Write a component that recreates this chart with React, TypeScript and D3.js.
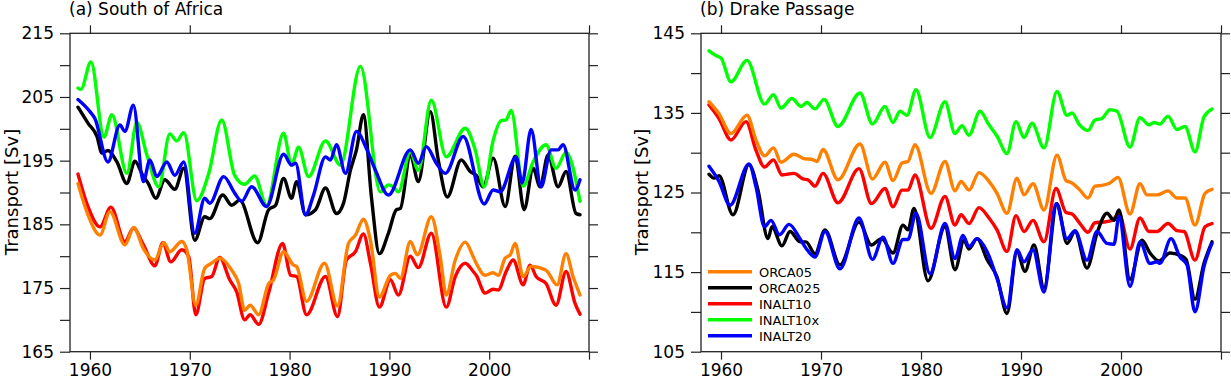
import React, { useEffect, useRef } from "react";
import * as d3 from "d3";

type Pt = [number, number];

// legend order
const seriesNames = ["ORCA05", "ORCA025", "INALT10", "INALT10x", "INALT20"];
const seriesColors = ["#ff8000", "#000000", "#ff0000", "#00ff00", "#0000ff"];
// red first, blue last (blue sits on top)
const drawOrder = [2, 0, 1, 3, 4];

const yearTicks = [1960, 1970, 1980, 1990, 2000, 2010];
const yearLabels = [1960, 1970, 1980, 1990, 2000];

const safTicks = [165, 170, 175, 180, 185, 190, 195, 200, 205, 210, 215];
const safLabels = [165, 175, 185, 195, 205, 215];
const dpTicks = [105, 110, 115, 120, 125, 130, 135, 140, 145];
const dpLabels = [105, 115, 125, 135, 145];

// (a) South of Africa, [year, Sv]
const safOrca05: Pt[] = [[1958.8,191.4],[1959.8,186.5],[1961.0,183.3],[1962.0,187.0],[1963.5,181.8],[1964.4,184.5],[1965.35,181.2],[1966.5,179.4],[1967.4,182.1],[1968.0,180.7],[1969.2,182.3],[1969.7,181.0],[1970.6,172.3],[1971.5,178.1],[1972.2,178.9],[1973.0,179.7],[1974.2,177.8],[1974.9,175.7],[1975.5,171.5],[1976.05,172.3],[1976.9,170.8],[1977.9,175.7],[1978.4,176.3],[1979.4,180.7],[1980.4,178.6],[1980.7,178.4],[1981.7,172.9],[1983.5,178.9],[1984.8,172.2],[1985.9,182.0],[1986.6,183.3],[1987.4,185.8],[1988.1,182.5],[1989.0,173.6],[1990.1,177.0],[1990.6,177.3],[1991.1,176.5],[1992.1,182.3],[1992.8,180.2],[1994.2,186.2],[1995.1,179.9],[1995.7,173.9],[1996.6,179.4],[1997.6,182.2],[1998.4,179.9],[1998.7,178.9],[1999.6,177.0],[2000.4,177.4],[2000.9,177.0],[2001.6,179.7],[2002.1,180.2],[2002.6,182.0],[2003.4,176.8],[2004.2,178.4],[2005.7,177.8],[2006.8,175.5],[2007.7,180.4],[2008.4,176.8],[2009.1,173.9]];
const safOrca025: Pt[] = [[1958.8,203.4],[1959.8,200.9],[1960.7,198.8],[1961.2,196.2],[1961.8,196.6],[1962.7,194.8],[1963.7,191.4],[1964.5,194.9],[1965.35,192.5],[1965.85,191.4],[1966.6,189.1],[1967.5,192.0],[1968.5,190.5],[1969.4,193.8],[1970.5,182.5],[1971.5,186.2],[1972.0,185.9],[1973.3,189.6],[1974.2,188.0],[1975.0,188.8],[1976.8,182.1],[1977.9,187.3],[1978.6,188.0],[1979.4,192.2],[1980.2,189.1],[1980.7,191.7],[1981.6,186.5],[1982.6,187.3],[1983.6,190.7],[1984.7,186.7],[1985.4,188.3],[1986.1,193.5],[1986.7,196.7],[1987.4,202.2],[1988.2,189.3],[1989.0,180.4],[1989.9,183.6],[1990.7,187.3],[1991.1,187.5],[1992.1,195.9],[1992.9,191.7],[1994.1,202.7],[1994.9,195.1],[1995.8,189.3],[1997.2,195.1],[1998.1,193.3],[1998.7,192.7],[1999.4,190.9],[2000.4,195.4],[2001.6,187.8],[2002.6,195.7],[2003.5,187.3],[2004.4,193.8],[2005.1,190.9],[2005.9,195.9],[2006.9,190.9],[2007.7,193.3],[2008.7,186.7],[2009.1,186.5]];
const safInalt10: Pt[] = [[1958.8,192.9],[1959.8,187.8],[1961.0,184.6],[1962.1,187.7],[1963.5,182.3],[1964.35,184.4],[1965.35,181.8],[1966.5,178.5],[1967.3,182.1],[1968.1,179.1],[1969.2,181.0],[1969.9,179.9],[1970.6,170.8],[1971.5,176.5],[1972.2,176.8],[1973.0,179.8],[1974.0,176.3],[1974.7,174.4],[1975.5,170.0],[1976.05,170.8],[1976.9,169.3],[1977.9,174.2],[1979.3,182.0],[1980.1,177.0],[1980.7,176.8],[1981.7,170.8],[1983.6,176.8],[1984.8,170.5],[1985.7,179.4],[1986.6,180.7],[1987.4,183.5],[1988.1,178.9],[1989.0,172.0],[1990.1,176.3],[1990.9,173.9],[1992.1,180.0],[1992.9,178.2],[1994.2,183.6],[1995.7,172.0],[1996.6,176.8],[1997.6,178.9],[1998.4,177.6],[1998.7,177.0],[1999.6,174.2],[2000.4,174.8],[2000.9,174.7],[2001.7,177.6],[2002.4,179.4],[2003.4,175.5],[2004.1,178.6],[2004.7,176.8],[2005.7,175.7],[2006.7,172.3],[2007.7,177.6],[2008.6,172.6],[2009.1,170.9]];
const safInalt10x: Pt[] = [[1958.8,206.4],[1959.1,206.2],[1960.1,210.5],[1961.4,198.7],[1962.2,202.2],[1963.7,193.0],[1964.7,201.0],[1965.7,195.9],[1966.9,190.9],[1968.0,199.2],[1968.7,198.1],[1969.4,199.4],[1970.7,188.7],[1971.9,193.0],[1973.2,201.4],[1974.5,192.7],[1975.5,191.3],[1976.5,192.6],[1977.7,188.0],[1979.4,199.3],[1980.2,194.3],[1980.9,197.1],[1981.9,192.5],[1983.6,198.1],[1985.1,194.3],[1987.1,209.8],[1989.1,190.1],[1989.9,191.2],[1990.4,190.9],[1990.9,190.1],[1992.1,196.4],[1992.9,193.5],[1994.2,204.5],[1995.7,195.6],[1997.6,200.1],[1998.6,196.7],[1999.5,190.9],[2000.4,198.2],[2001.2,201.3],[2001.7,201.4],[2002.2,202.9],[2003.4,191.0],[2004.4,194.8],[2005.7,197.5],[2006.7,193.8],[2007.7,196.3],[2009.1,188.6]];
const safInalt20: Pt[] = [[1958.8,204.6],[1960.0,202.7],[1960.5,201.6],[1961.8,194.8],[1963.0,200.6],[1963.5,199.6],[1964.35,203.7],[1965.35,191.7],[1966.0,195.1],[1966.7,192.5],[1967.7,194.8],[1968.5,192.7],[1969.4,194.8],[1970.5,183.6],[1971.5,189.1],[1972.0,188.3],[1973.4,192.5],[1974.5,189.9],[1975.2,188.6],[1976.2,190.9],[1977.7,187.8],[1979.4,196.0],[1980.2,194.3],[1980.6,194.6],[1981.6,186.5],[1982.4,189.6],[1983.6,195.6],[1984.1,195.1],[1984.7,197.5],[1985.6,193.0],[1986.7,199.6],[1987.7,196.9],[1988.6,193.5],[1989.9,189.6],[1992.1,196.7],[1992.9,194.6],[1993.7,197.2],[1994.7,194.6],[1995.6,193.0],[1997.4,198.8],[1999.5,188.2],[2000.4,190.4],[2001.1,190.1],[2002.7,195.6],[2003.3,191.5],[2004.2,199.9],[2005.2,190.9],[2006.2,196.7],[2006.9,196.7],[2007.4,197.5],[2008.6,190.4],[2009.1,192.0]];

// (b) Drake Passage, [year, Sv]
const dpOrca05: Pt[] = [[1958.8,136.4],[1959.8,134.9],[1961.0,132.4],[1962.6,134.7],[1963.5,131.6],[1964.35,129.6],[1965.25,130.6],[1966.0,128.8],[1967.3,129.8],[1968.2,129.3],[1969.2,129.1],[1969.6,128.9],[1970.2,130.4],[1971.7,126.6],[1973.9,131.1],[1975.15,126.7],[1976.4,128.8],[1977.2,126.5],[1978.1,128.7],[1978.7,128.9],[1979.4,131.0],[1981.0,124.9],[1982.4,128.9],[1983.4,125.2],[1984.0,126.4],[1984.8,125.3],[1985.8,127.5],[1986.8,126.4],[1987.6,124.9],[1988.6,122.4],[1989.6,126.8],[1990.3,124.7],[1991.2,126.1],[1992.3,122.8],[1993.6,129.7],[1994.5,126.5],[1995.1,126.2],[1995.9,125.3],[1996.7,124.3],[1997.4,125.8],[1998.1,125.9],[1998.9,126.2],[1999.7,126.9],[2000.9,122.3],[2001.9,126.1],[2002.6,124.7],[2003.6,124.7],[2004.7,125.2],[2005.6,124.3],[2006.4,124.3],[2007.4,120.9],[2008.4,124.9],[2009.1,125.4]];
const dpOrca025: Pt[] = [[1958.8,127.3],[1959.3,126.8],[1959.8,127.1],[1961.2,122.2],[1962.8,128.5],[1963.7,125.3],[1964.7,119.2],[1965.1,120.7],[1966.1,118.3],[1966.9,120.1],[1967.9,118.8],[1968.5,118.8],[1969.4,117.3],[1970.4,120.3],[1971.9,115.9],[1973.8,121.3],[1975.05,118.4],[1976.05,119.2],[1977.2,117.4],[1978.2,120.9],[1978.7,120.3],[1979.3,123.0],[1980.7,113.9],[1982.4,120.7],[1983.4,115.3],[1984.3,119.0],[1984.8,117.9],[1985.6,119.2],[1986.6,116.6],[1987.6,114.4],[1988.6,109.8],[1989.6,117.6],[1990.4,115.1],[1991.3,118.4],[1992.3,113.0],[1993.6,123.6],[1994.6,118.6],[1995.4,120.1],[1996.6,115.5],[1997.6,119.9],[1998.6,122.4],[1999.3,121.5],[1999.8,122.8],[2000.9,114.1],[2002.1,119.0],[2002.9,117.4],[2003.8,116.4],[2004.9,117.4],[2005.9,117.1],[2006.5,116.6],[2007.4,111.6],[2008.3,116.1],[2009.1,118.8]];
const dpInalt10: Pt[] = [[1958.8,136.0],[1959.8,134.3],[1961.0,131.6],[1962.5,133.9],[1963.5,130.3],[1964.35,128.2],[1965.25,129.1],[1966.1,127.2],[1967.3,127.4],[1968.2,126.7],[1968.7,126.6],[1969.4,125.8],[1970.2,127.4],[1971.7,123.7],[1973.8,128.0],[1975.05,123.6],[1976.4,125.5],[1977.2,123.2],[1978.1,125.3],[1978.7,125.3],[1979.4,127.2],[1981.0,120.5],[1982.4,124.5],[1983.4,120.9],[1984.0,122.2],[1984.8,121.1],[1985.8,123.1],[1986.8,121.8],[1987.6,120.3],[1988.6,117.6],[1989.5,122.1],[1990.3,120.1],[1991.2,121.5],[1992.3,118.8],[1993.5,125.5],[1994.5,122.5],[1995.1,122.3],[1995.9,121.1],[1996.7,120.0],[1997.4,121.2],[1998.3,121.3],[1999.1,121.5],[1999.8,122.3],[2000.9,117.9],[2001.9,121.8],[2002.8,120.1],[2003.6,120.1],[2004.7,121.1],[2005.6,120.2],[2006.3,120.1],[2007.4,116.5],[2008.4,120.7],[2009.1,121.1]];
const dpInalt10x: Pt[] = [[1958.8,142.8],[1959.5,142.2],[1960.0,141.9],[1961.0,138.9],[1962.6,141.6],[1964.35,136.1],[1965.25,137.3],[1966.0,135.6],[1967.1,136.8],[1968.0,135.8],[1968.6,136.3],[1969.4,135.5],[1970.3,136.7],[1971.7,133.3],[1973.9,137.5],[1975.15,133.6],[1976.4,135.8],[1977.2,133.8],[1977.9,135.2],[1978.6,134.7],[1979.5,137.9],[1980.9,131.9],[1982.4,136.4],[1983.4,132.4],[1984.1,133.4],[1984.8,132.2],[1985.9,135.2],[1986.8,133.5],[1987.6,132.1],[1988.6,129.9],[1989.5,133.9],[1990.3,131.9],[1991.1,133.7],[1992.3,130.6],[1993.6,137.7],[1994.6,134.7],[1995.1,135.0],[1995.8,133.6],[1996.7,132.8],[1997.4,134.1],[1998.1,134.3],[1998.9,135.4],[1999.6,135.2],[2000.9,130.7],[2001.9,134.4],[2002.8,133.5],[2003.3,133.8],[2003.9,133.6],[2004.7,134.6],[2005.6,132.9],[2006.4,133.3],[2007.4,130.1],[2008.3,134.5],[2009.1,135.5]];
const dpInalt20: Pt[] = [[1958.8,128.3],[1959.8,126.4],[1960.9,123.4],[1962.8,128.6],[1963.5,125.7],[1964.35,120.7],[1965.0,121.5],[1965.85,119.7],[1966.8,121.0],[1967.9,119.2],[1968.5,118.0],[1969.4,116.9],[1970.4,120.1],[1971.9,115.4],[1973.8,121.8],[1975.15,116.6],[1976.2,119.4],[1977.2,116.1],[1978.2,119.1],[1978.7,119.1],[1979.5,122.4],[1980.9,114.8],[1982.4,121.1],[1983.4,116.7],[1984.2,119.6],[1984.8,118.2],[1985.6,119.2],[1986.6,117.6],[1987.6,114.2],[1988.6,110.5],[1989.6,117.8],[1990.3,116.3],[1991.2,117.8],[1992.3,112.5],[1993.5,123.6],[1994.6,119.2],[1995.4,120.2],[1996.6,116.5],[1997.6,120.1],[1998.6,118.6],[1999.3,118.5],[1999.8,122.0],[2000.9,113.2],[2001.9,118.8],[2002.9,116.1],[2003.6,116.3],[2003.9,116.1],[2005.0,119.2],[2005.9,116.9],[2006.6,115.9],[2007.4,110.0],[2008.3,115.7],[2009.1,118.6]];

// NCL's Helvetica runs wide, DejaVu Sans matches its widths better
const FONT = "'DejaVu Sans', 'Liberation Sans', Arial, sans-serif";

function drawPanel(svg, opts) {
  const { left, right, top, bottom, yDomain, ticks, labels, series, title, yTitleX, legend } = opts;

  const x = d3.scaleLinear().domain([1958, 2010]).range([left, right]);
  const y = d3.scaleLinear().domain(yDomain).range([bottom, top]);

  const g = svg.append("g");

  // axes: all ticks point outward
  const styleAxis = sel => {
    sel.select(".domain").remove();
    sel.selectAll(".tick line").attr("stroke", "#222").attr("stroke-width", 1.2);
    sel.attr("font-family", FONT).attr("fill", "#000");
    sel.selectAll("text").attr("fill", "#000");
  };

  g.append("g")
    .attr("transform", `translate(0,${bottom})`)
    .call(
      d3.axisBottom(x).tickValues(yearTicks).tickSize(8).tickPadding(4)
        .tickFormat(d => (yearLabels.includes(d) ? String(d) : ""))
    )
    .call(styleAxis)
    .attr("font-size", 17);

  g.append("g")
    .attr("transform", `translate(0,${top})`)
    .call(d3.axisTop(x).tickValues(yearTicks).tickSize(8).tickFormat(() => ""))
    .call(styleAxis);

  g.append("g")
    .attr("transform", `translate(${left},0)`)
    .call(
      d3.axisLeft(y).tickValues(ticks).tickSize(10).tickPadding(6)
        .tickFormat(d => (labels.includes(d) ? String(d) : ""))
    )
    .call(styleAxis)
    .attr("font-size", 17);

  g.append("g")
    .attr("transform", `translate(${right},0)`)
    .call(d3.axisRight(y).tickValues(ticks).tickSize(9).tickFormat(() => ""))
    .call(styleAxis);

  g.append("rect")
    .attr("x", left)
    .attr("y", top)
    .attr("width", right - left)
    .attr("height", bottom - top)
    .attr("fill", "none")
    .attr("stroke", "#222")
    .attr("stroke-width", 1.3);

  const line = d3
    .line<Pt>()
    .x(d => x(d[0]))
    .y(d => y(d[1]))
    .curve(d3.curveMonotoneX);

  g.append("g")
    .selectAll("path")
    .data(drawOrder)
    .join("path")
    .attr("d", i => line(series[i]))
    .attr("fill", "none")
    .attr("stroke", i => seriesColors[i])
    .attr("stroke-width", 3.4)
    .attr("stroke-linejoin", "round")
    .attr("stroke-linecap", "round");

  g.append("text")
    .attr("x", left - 1)
    .attr("y", 15)
    .attr("font-family", FONT)
    .attr("font-size", 17)
    .text(title);

  g.append("text")
    .attr("transform", `translate(${yTitleX},192) rotate(-90)`)
    .attr("text-anchor", "middle")
    .attr("font-family", FONT)
    .attr("font-size", 18)
    .text("Transport [Sv]");

  if (legend) {
    const lg = g
      .append("g")
      .selectAll("g")
      .data(seriesNames)
      .join("g")
      .attr("transform", (d, i) => `translate(${left + 7},${271.7 + i * 16})`);
    lg.append("line")
      .attr("x1", 0)
      .attr("x2", 44)
      .attr("stroke", (d, i) => seriesColors[i])
      .attr("stroke-width", 3.5);
    lg.append("text")
      .attr("x", 51)
      .attr("y", 5)
      .attr("font-family", FONT)
      .attr("font-size", 13)
      .text(d => d);
  }
}

export default function App() {
  const ref = useRef<SVGSVGElement>(null);

  useEffect(() => {
    const svg = d3.select(ref.current);
    svg.selectAll("*").remove();

    drawPanel(svg, {
      left: 70,
      right: 589,
      top: 33.3,
      bottom: 351.7,
      yDomain: [165, 215],
      ticks: safTicks,
      labels: safLabels,
      series: [safOrca05, safOrca025, safInalt10, safInalt10x, safInalt20],
      title: "(a) South of Africa",
      yTitleX: 18,
      legend: false
    });

    drawPanel(svg, {
      left: 701,
      right: 1221,
      top: 33.3,
      bottom: 351.7,
      yDomain: [105, 145],
      ticks: dpTicks,
      labels: dpLabels,
      series: [dpOrca05, dpOrca025, dpInalt10, dpInalt10x, dpInalt20],
      title: "(b) Drake Passage",
      yTitleX: 648,
      legend: true
    });
  }, []);

  return (
    <svg
      ref={ref}
      width={1231}
      height={380}
      style={{ position: "absolute", left: 0, top: 0, background: "#fff" }}
    />
  );
}
